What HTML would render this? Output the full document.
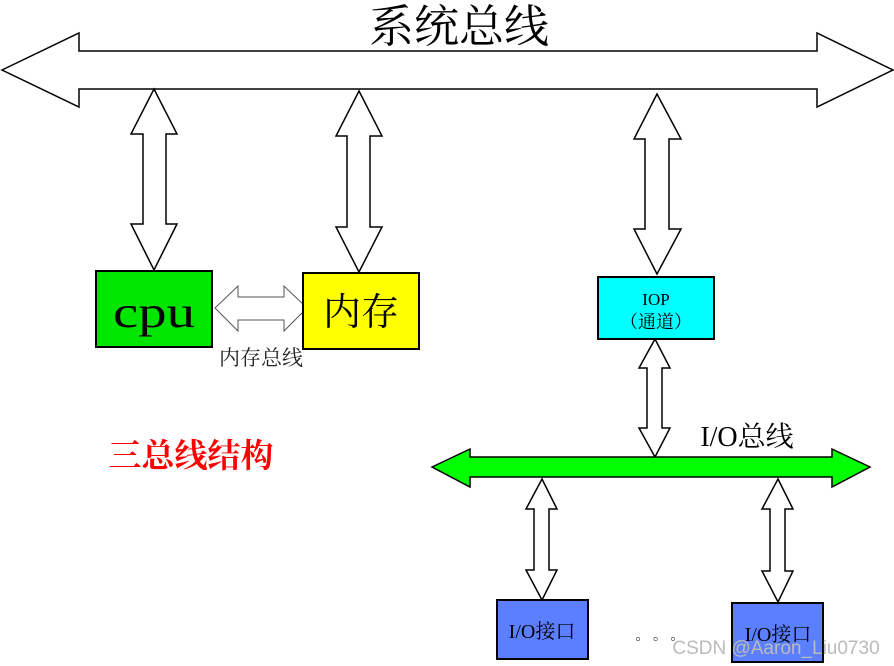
<!DOCTYPE html>
<html><head><meta charset="utf-8"><style>
html,body{margin:0;padding:0;background:#fff;width:894px;height:666px;overflow:hidden}
svg text{font-family:"Liberation Serif","Noto Serif CJK SC","Noto Sans CJK SC",serif}
</style></head><body>
<svg width="894" height="666" viewBox="0 0 894 666" xmlns="http://www.w3.org/2000/svg">
<g fill="#fff" stroke="#000" stroke-width="1.5">
<polygon points="2,70 79,33 79,51 817,51 817,33 893,70 817,107 817,89 79,89 79,107"/>
<polygon points="154,89 177,134 166,134 166,224 177,224 154,270 131,224 143,224 143,134 131,134"/>
<polygon points="359,91 382,136 370,136 370,227 382,227 359,272 336,227 347,227 347,136 336,136"/>
<polygon points="657,94 681,139 669,139 669,229 681,229 657,274 634,229 645,229 645,139 634,139"/>
<polygon points="215,308 238,286 238,297 284,297 284,286 307,308 284,331 284,320 238,320 238,331" stroke="#555" stroke-width="1"/>
<polygon points="655,339 670,368 662,368 662,428 670,428 655,457 639,428 647,428 647,368 639,368"/>
<polygon points="542,479 557,509 549,509 549,570 557,570 542,600 526,570 534,570 534,509 526,509"/>
<polygon points="778,479 793,509 785,509 785,571 793,571 778,602 762,571 770,571 770,509 762,509"/>
</g>
<polygon points="432,467 470,449 470,457 832,457 832,449 870,467 832,487 832,477 470,477 470,487" fill="#00ff00" stroke="#000" stroke-width="1.5"/>
<rect x="96" y="271" width="116" height="76" fill="#00e600" stroke="#000" stroke-width="2"/>
<rect x="303" y="273" width="116" height="76" fill="#ffff00" stroke="#000" stroke-width="2"/>
<rect x="598" y="277" width="116" height="62" fill="#00ffff" stroke="#000" stroke-width="2"/>
<rect x="497" y="600" width="91" height="59" fill="#5b7fff" stroke="#000" stroke-width="2"/>
<rect x="732" y="603" width="91" height="59" fill="#5b7fff" stroke="#000" stroke-width="2"/>
<text x="459" y="42" font-size="45" text-anchor="middle">系统总线</text>
<text x="154" y="327" font-size="44" text-anchor="middle" textLength="82" lengthAdjust="spacingAndGlyphs">cpu</text>
<text x="361" y="325" font-size="38" text-anchor="middle">内存</text>
<text x="261" y="365" font-size="21" text-anchor="middle" fill="#222">内存总线</text>
<text x="656" y="305" font-size="17" text-anchor="middle">IOP</text>
<text x="656" y="328" font-size="18" text-anchor="middle">（通道）</text>
<text x="191" y="467" font-size="33" text-anchor="middle" fill="#ff0000" font-weight="bold">三总线结构</text>
<text x="747" y="446" font-size="28" text-anchor="middle">I/O总线</text>
<text x="542" y="638" font-size="20" text-anchor="middle">I/O接口</text>
<text x="778" y="641" font-size="20" text-anchor="middle">I/O接口</text>
<text x="660" y="640" font-size="14" text-anchor="middle">。 。 。</text>
<text x="776" y="654" font-size="19" text-anchor="middle" fill="#bbb" style="font-family:'Liberation Sans',sans-serif">CSDN @Aaron_Liu0730</text>
</svg>
</body></html>
